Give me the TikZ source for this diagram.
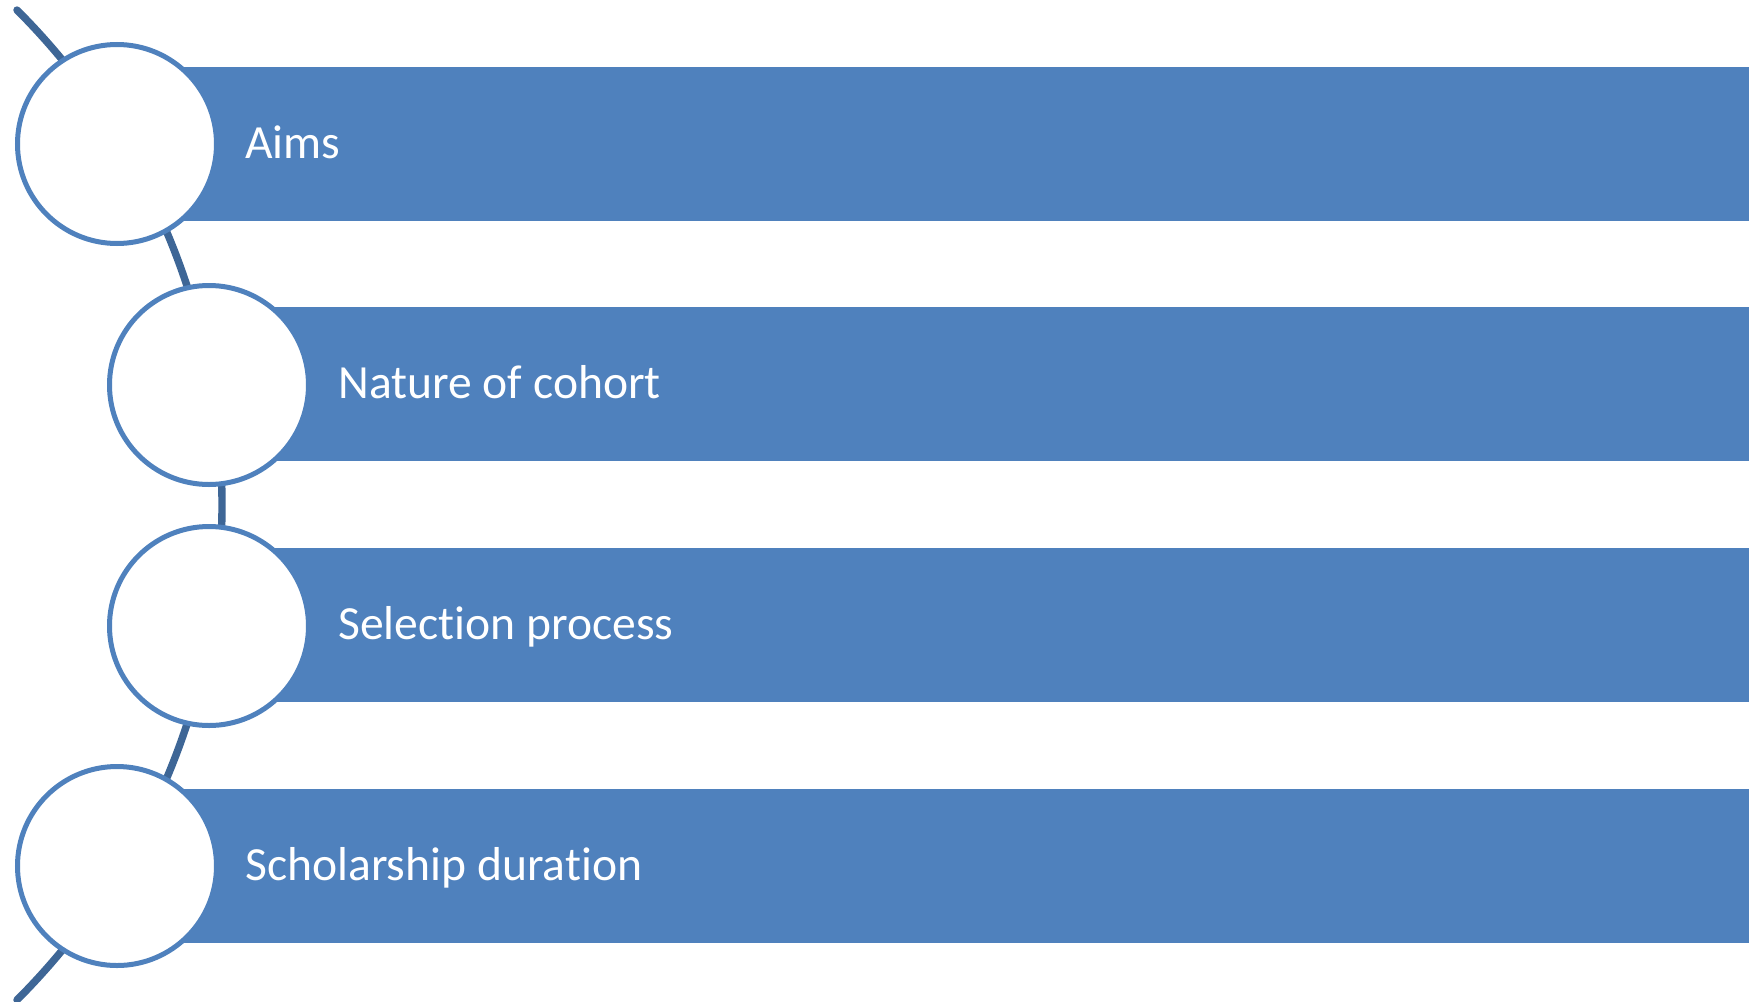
\documentclass[tikz,border=0pt]{standalone}
\usepackage{fontspec}
\setmainfont{Carlito}[Ligatures=NoCommon]
\definecolor{barblue}{HTML}{4F81BD}
\definecolor{arcblue}{HTML}{3E6696}
\begin{document}
\begin{tikzpicture}[x=0.5pt, y=-0.5pt,
  bar/.style={fill=barblue},
  disc/.style={circle, draw=barblue, line width=2.5pt, fill=white, minimum size=99.5pt, inner sep=0pt},
  bartext/.style={anchor=base west, text=white, inner sep=0pt, font=\fontsize{23.8}{28}\selectfont}]
\useasboundingbox (0,0) rectangle (1749,1001);

% bars
\fill[bar] (117,67) rectangle (1749,221);
\fill[bar] (209,307) rectangle (1749,461);
\fill[bar] (209,548) rectangle (1749,702);
\fill[bar] (117,789) rectangle (1749,943);

% the arc
\coordinate (arcc) at (-478,505);
\draw[arcblue, line width=3.7pt, line cap=round] ([shift={(-45:700)}]arcc) arc[start angle=-45, end angle=45, radius=700];

% circles
\node[disc] (aims) at (117,144) {};
\node[disc] (cohort) at (209,385) {};
\node[disc] (selection) at (209,626) {};
\node[disc] (duration) at (117,866) {};

\node[bartext] (aimstext) at (245,158) {Aims};
\node[bartext] (cohorttext) at (338,398) {Nature of cohort};
\node[bartext] (selectiontext) at (338,639) {Selection process};
\node[bartext] (durationtext) at (245,880) {Scholarship duration};

\end{tikzpicture}
\end{document}
